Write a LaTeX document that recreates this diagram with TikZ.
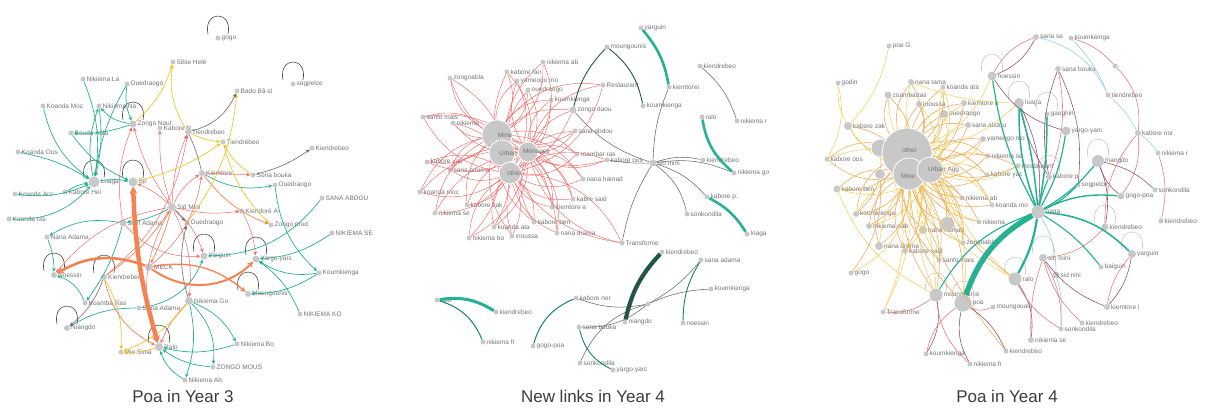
\documentclass[tikz,border=0pt]{standalone}
\usepackage{fontspec}
\setmainfont{Liberation Sans}
\usetikzlibrary{arrows.meta,calc}
\definecolor{dotc}{RGB}{200,200,200}
\definecolor{lblc}{RGB}{115,115,115}
\definecolor{titc}{RGB}{60,60,60}
\definecolor{tl}{RGB}{38,176,148}
\definecolor{tlD}{RGB}{22,130,110}
\definecolor{tlK}{RGB}{35,85,75}
\definecolor{orn}{RGB}{245,130,80}
\definecolor{rdc}{RGB}{240,105,105}
\definecolor{yel}{RGB}{238,200,40}
\definecolor{gry}{RGB}{105,105,105}
\definecolor{lpc}{RGB}{70,70,70}
\definecolor{pur}{RGB}{130,100,130}
\definecolor{orB}{RGB}{242,160,70}
\definecolor{ylB}{RGB}{240,205,80}
\definecolor{brn}{RGB}{140,75,95}
\definecolor{prd}{RGB}{228,115,115}
\definecolor{lbl2}{RGB}{150,210,225}
\definecolor{lpl}{RGB}{200,200,200}
\tikzset{
  dot/.style={circle,fill=dotc,inner sep=0pt},
  lbl/.style={font=\fontsize{6.5}{7}\selectfont,text=lblc,inner sep=0.8pt},
  ttl/.style={font=\fontsize{17}{20}\selectfont,text=titc},
  arr/.style={-{Stealth[length=4pt,width=3.6pt]}},
  eT/.style={arr,draw=tl,line width=0.7pt},
  eO/.style={arr,draw=orn,line width=0.7pt},
  eR/.style={arr,draw=rdc,line width=0.5pt},
  eY/.style={arr,draw=yel,line width=0.7pt},
  eG/.style={arr,draw=gry,line width=0.6pt},
  lp/.style={draw=lpc,line width=0.6pt},
  rr/.style={draw=rdc,line width=0.45pt},
  gg/.style={draw=gry,line width=0.55pt},
  oB/.style={draw=orB,line width=0.5pt},
  yB/.style={draw=ylB,line width=0.5pt},
  bB/.style={draw=brn,line width=0.55pt},
  pB/.style={draw=prd,line width=0.55pt},
  lB/.style={draw=lbl2,line width=0.6pt},
  lq/.style={draw=lpl,line width=0.6pt},
}
\begin{document}
\begin{tikzpicture}[x=1pt,y=-1pt]
\useasboundingbox (0,0) rectangle (1209,407);

%================ PANEL 1 nodes
\foreach \n/\x/\y/\s/\t in {
p1gogo/218/38/5/gogo, p1sibie/173/62/5/Sibie Helé, p1sogp/293/84/5/sogpelce,
p1nikla/83/79/5/Nikiema La, p1oued1/127/84/5/Ouedraogo, p1bado/237/91/5/Bado Bâ sl,
p1kmoc/43/106/5/Koanda Moc, p1nikna/99/106/5/Nikiema Na, p1zongo/133/124/7/Zongo Nout,
p1kabn/160/128/5/Kabore N, p1tien1/188/132/6/Tiendrebeo, p1tien2/223/142/5/Tiendrébeo,
p1bouda/71/133/5/Bouda Abla, p1kous/18/152/5/Koanda Ous, p1kiend1/312/148/5/Kiendrebeo,
p1kiem/202/173/6/Kiemtore, p1sona/253/175/5/Sona bouka, p1oued2/275/185/5/Ouedraogo,
p1loaga/94/182/11/Loaga, p1sp/133/182/9/Sp, p1karo/15/194/5/Koanda Aro,
p1kabh/65/192/5/Kabore Hei, p1sana/322/198/5/SANA ABDOU, p1sid/172/207/8/Sid Mini,
p1kras/9/219/5/Koanda ras, p1kienA/242/211/5/Kiendoré A, p1salif/123/223/7/Salif Adama,
p1oued3/187/223/5/Ouedraogo, p1zprod/271/225/5/Zongo prod, p1nikse/332/233/5/NIKIEMA SE,
p1nana/47/237/5/Nana Adama, p1yarg/204/256/7/Yarguin, p1yargo/256/259/7/Yargo-yarc,
p1meck/149/267/8/MECK, p1noes/54/275/6/Noessin, p1kiend2/104/277/6/Kiendrebeo,
p1koum/319/273/5/Koumkienga, p1moun/248/294/6/Moungounis, p1nikgo/189/301/8/Nikiema Go,
p1koamba/85/303/5/Koamba Ras, p1sanaA/139/308/5/Sana Adama, p1nikko/300/314/5/NIKIEMA KO,
p1niang/67/328/6/Niangdo, p1ralo/159/347/8/Ralo, p1nikbo/237/344/5/Nikiema Bo,
p1mie/121/352/5/Mie Sima, p1zmous/213/367/5/ZONGO MOUS, p1nikab/185/380/5/Nikiema Ab}
{\node[dot,minimum size=\s pt,label={[lbl]right:\t}] (\n) at (\x,\y) {};}

% panel 1 loops
\foreach \n in {p1gogo,p1sogp,p1zongo,p1loaga,p1sp,p1noes,p1kiend2,p1yarg,p1yargo,p1moun,p1niang,p1ralo}
{\draw[lp] ($(\n)+(-10,-4)$) .. controls ($(\n)+(-15,-28)$) and ($(\n)+(15,-28)$) .. ($(\n)+(10,-4)$);}

% panel 1 edges
\foreach \a/\b/\c in {p1sid/p1zongo/10, p1sid/p1sp/-10, p1sid/p1kabn/10, p1sid/p1tien1/10,
  p1sid/p1kiem/15, p1sid/p1kienA/-10, p1sid/p1yarg/15, p1sid/p1nikgo/15, p1sid/p1noes/-20,
  p1sid/p1ralo/-25, p1kiem/p1sona/0, p1kienA/p1yargo/10, p1salif/p1zongo/15, p1nikgo/p1ralo/-10,
  p1kiend2/p1tien1/-20, p1meck/p1kiem/-20, p1salif/p1yarg/-25}
{\draw[eR] (\a) to[bend left=\c] (\b);}
\foreach \a/\b/\c in {p1nikla/p1loaga/15, p1kmoc/p1loaga/-20, p1nikna/p1loaga/10, p1loaga/p1nikna/15,
  p1oued1/p1loaga/-10, p1zongo/p1bouda/10, p1bouda/p1sp/-15, p1kous/p1loaga/10, p1karo/p1loaga/-15,
  p1kras/p1loaga/-25, p1kabh/p1loaga/10, p1loaga/p1sp/10, p1zongo/p1nikna/20, p1salif/p1nana/-20,
  p1nana/p1noes/10, p1koamba/p1noes/-25, p1salif/p1koamba/10, p1sid/p1salif/10, p1sanaA/p1niang/-15,
  p1sanaA/p1yarg/-30, p1nikgo/p1nikbo/20, p1nikgo/p1zmous/25, p1nikgo/p1nikab/15, p1nikbo/p1ralo/15,
  p1zmous/p1ralo/15, p1nikab/p1ralo/20, p1koum/p1yargo/20, p1nikse/p1yargo/15, p1nikko/p1yargo/-15,
  p1koum/p1moun/15, p1oued2/p1koum/-20, p1kiem/p1oued2/-20, p1sana/p1yarg/25, p1oued1/p1zongo/-15}
{\draw[eT] (\a) to[bend left=\c] (\b);}
\foreach \a/\b/\c in {p1zongo/p1sibie/-15, p1tien1/p1sibie/20, p1tien1/p1tien2/-10, p1sp/p1tien2/-10,
  p1sona/p1tien2/15, p1oued3/p1bado/-15, p1tien2/p1zprod/-15, p1kiend2/p1mie/15, p1ralo/p1mie/10,
  p1nikgo/p1mie/15}
{\draw[eY] (\a) to[bend left=\c] (\b);}
\foreach \a/\b/\c in {p1tien1/p1bado/-25, p1sona/p1kiend1/-10, p1sid/p1oued3/0, p1nikgo/p1oued3/15}
{\draw[eG] (\a) to[bend left=\c] (\b);}
\draw[gg] (p1tien1) to[bend left=5] (p1kiem);
\draw[draw=pur,line width=0.6pt,arr] (p1kiend2) to[bend left=15] (p1niang);
\foreach \a/\b/\c in {p1kiem/p1zprod/-15, p1kiend2/p1sid/-10, p1sid/p1meck/5, p1kiend2/p1ralo/-25}
{\draw[eO] (\a) to[bend left=\c] (\b);}
\draw[draw=orn,line width=1.3pt,-{Stealth[length=5pt,width=5pt]}] (p1meck) to[bend left=25] (p1moun);
\draw[draw=orn,line width=2pt,-{Stealth[length=6pt,width=6pt]}] (p1meck) to[bend right=40] (p1yargo);
\draw[draw=orn,line width=2.6pt,-{Stealth[length=7pt,width=7pt]}] (p1meck) to[bend right=25] (p1noes);
\draw[draw=orn,line width=4.5pt,{Stealth[length=7pt,width=8pt]}-{Stealth[length=7pt,width=8pt]}] (p1sp) to[bend right=7] (p1ralo);

%================ PANEL 2 nodes
\foreach \n/\x/\y/\s/\t in {
p2yarg/641/28/5/yarguin, p2moun/607/47/5/moungounis, p2nikab/543/62/5/nikiema ab,
p2kiend1/700/66/5/kiendrebeo, p2zabla/450/78/5/zongoabla, p2kabher/507/72/5/kabore her,
p2yame/517/81/5/yameogo mo, p2oued/528/90/5/ouedraogo, p2rest/603/85/5/Restaurant,
p2kiem/669/87/5/kiemtorei, p2koum1/551/100/5/koumkienga, p2koum2/643/106/5/koumkienga,
p2zdaou/573/110/7/zongo daou, p2sanfo/423/117/5/sanfo mais, p2nikx/453/123/5/nikiema,
p2ralo/702/117/5/ralo, p2nikr/737/121/5/nikiema r, p2sanab/575/131/5/sana abdou,
p2roam/577/154/5/roambar ras, p2kabous/607/160/5/kabore ous, p2sib/653/163/7/sib mini,
p2kiend2/703/160/5/kiendrebeo, p2kabyac/427/162/5/kabore yac, p2sanad/450/170/5/sana adama,
p2nanah/583/179/5/nana hamad, p2nikgo/734/173/5/nikiema go, p2kmoc/420/192/5/koanda moc,
p2kabp/707/197/5/kabore p., p2kabsaid/573/199/5/kabre said, p2kabzak/467/205/5/kabore zak,
p2kiema/552/207/5/kiemtore a, p2nikse/435/213/5/nikiema se, p2sonk1/687/214/5/sonkondila,
p2kata/494/227/5/koanda ata, p2kabben/534/222/5/kabore ben, p2nanad/557/233/5/nana drama,
p2inou/512/236/5/inoussa, p2nikbo/469/238/5/nikiema bo, p2loaga/747/234/5/loaga,
p2trans/622/243/5/Transforme, p2kiend3/662/252/5/kiendrebeo, p2sanad2/701/260/5/sana adama,
p2koum3/711/289/5/koumkienga, p2kabnor/576/298/5/kabore nor, p2ctr/648/304/5/,
p2raso/437/300/5/ralo, p2kiend4/496/312/5/kiendrebeo, p2niang/625/322/5/niangdo,
p2noes/683/323/5/noessin, p2sanbk/579/327/5/sana bouka, p2nikfr/483/342/5/nikiema fr,
p2gogo/533/346/5/gogo-poa, p2sonk2/580/363/5/sonkondila, p2yargo/613/370/5/yargo-yarc}
{\node[dot,minimum size=\s pt,label={[lbl]right:\t}] (\n) at (\x,\y) {};}
\node[dot,minimum size=30pt] (p2mine) at (497,135) {};
\node[dot,minimum size=26pt] (p2urban) at (502,153) {};
\node[dot,minimum size=20pt] (p2menag) at (528,152) {};
\node[dot,minimum size=22pt] (p2other) at (510,173) {};

% red star of panel 2
\foreach \n/\c in {p2zabla/25, p2kabher/-25, p2yame/25, p2oued/-25, p2koum1/25, p2nikab/-30, p2rest/30,
  p2sanfo/-25, p2nikx/25, p2sanab/-25, p2roam/25, p2kabous/-25, p2kabyac/25, p2sanad/-25, p2nanah/25,
  p2kmoc/-25, p2kabsaid/25, p2kabzak/-25, p2kiema/25, p2nikse/-25, p2kata/25, p2kabben/-25,
  p2nanad/25, p2inou/-25, p2nikbo/25, p2trans/-30, p2zdaou/20}
{\draw[rr] (p2mine) to[bend left=\c] (\n);
 \draw[rr] (p2other) to[bend right=\c] (\n);
 \draw[rr] (p2menag) to[bend left=\c] (\n);}
\node[dot,draw=white,line width=0.8pt,minimum size=30pt] (p2mine) at (497,135) {};
\node[dot,draw=white,line width=0.8pt,minimum size=26pt] (p2urban) at (502,153) {};
\node[dot,draw=white,line width=0.8pt,minimum size=20pt] (p2menag) at (528,152) {};
\node[dot,draw=white,line width=0.8pt,minimum size=22pt] (p2other) at (510,173) {};
\node[lbl,right] (p2minel) at (p2mine.center) {Mine};
\node[lbl,right] (p2urbl) at ($(p2urban.center)+(-4,0)$) {Urban};
\node[lbl,right] (p2menl) at ($(p2menag.center)+(-6,0)$) {Ménages};
\node[lbl,right] (p2othl) at ($(p2other.center)+(-4,0)$) {other};

\draw[draw=tl,line width=2.6pt] (p2yarg) to[bend left=15] (p2kiem);
\draw[draw=tlK,line width=0.9pt] (p2moun) to[bend left=20] (p2koum2);
\draw[draw=tlK,line width=0.9pt] (p2moun) to[bend left=-15] (p2zdaou);
\foreach \a/\b/\c in {p2kiend1/p2nikr/15, p2kiem/p2sib/-10, p2zdaou/p2sib/-15, p2sib/p2kiend2/15,
  p2sib/p2nikgo/15, p2sib/p2kabp/15, p2sib/p2sonk1/20, p2sib/p2trans/-10, p2sib/p2kabous/5,
  p2kabnor/p2ctr/-15, p2ctr/p2koum3/10, p2ctr/p2sanad2/-10, p2sanbk/p2ctr/-20, p2sonk2/p2ctr/25}
{\draw[gg] (\a) to[bend left=\c] (\b);}
\draw[draw=tl,line width=2.6pt] (p2ralo) to[bend right=20] (p2nikgo);
\draw[draw=tl,line width=2.6pt] (p2kabp) to[bend left=15] (p2loaga);
\draw[draw=tlK,line width=4.2pt] (p2kiend3) to[bend right=15] (p2niang);
\draw[draw=tl,line width=3pt] (p2raso) to[bend left=20] (p2kiend4);
\draw[draw=tlD,line width=1pt] (p2raso) to[bend left=25] (p2nikfr);
\draw[draw=tlD,line width=1pt] (p2kabnor) to[bend right=25] (p2gogo);
\draw[draw=tlD,line width=0.9pt] (p2sanad2) to[bend right=15] (p2noes);
\draw[draw=tlD,line width=0.9pt] (p2sanbk) to[bend right=25] (p2yargo);

%================ PANEL 3 nodes
\foreach \n/\x/\y/\s/\t in {
p3poaG/889/46/5/poa G., p3godin/838/83/5/godin, p3sanase/1036/37/6/sana se,
p3koum1/1071/38/5/koumkienga, p3dot1/1115/66/5/, p3noes/992/76/9/noessin,
p3nana/911/82/6/nana tama, p3kata/943/87/5/koanda ata, p3sanab/1058/69/6/sana bouka,
p3zoam/888/95/7/zoambartas, p3tien/1108/95/5/tiendrebeo, p3loaga/1019/103/10/loaga,
p3inou/919/104/6/inoussa, p3kiema/964/103/6/kiemtore a, p3oued/944/114/8/ouedraogo,
p3gaog/1047/114/5/gaoghin, p3kabzak/848/126/8/kabore zak, p3sanabd/968/125/6/sana abdou,
p3yargo/1066/131/9/yargo-yarc, p3kabnor/1138/133/6/kabore nor, p3yame/983/139/6/yameogo mo,
p3niang/1098/161/12/niangdo, p3nikr/1158/153/5/nikiema r, p3kabous/827/159/5/kabore ous,
p3nikse/988/156/5/nikiema se, p3rest/1018/166/5/Restaurant, p3kabyac/987/175/5/kabore yac,
p3kabp/1049/177/6/kabore p, p3sogp/1078/185/5/sogpelce, p3kabben/837/189/7/kabore ben,
p3gogopoa/1121/196/7/gogo-poa, p3sonk1/1155/190/5/sonkondila, p3nikab/962/198/5/nikiema ab,
p3kmo/992/205/5/koanda mo, p3hub/1038/212/13/naga, p3kiend1/1161/221/5/kiendrebeo,
p3koum2/856/214/6/koumkienga, p3niknab/869/226/6/nikiema nab, p3nanah/923/230/8/nana hamad,
p3zongo/947/224/14/, p3nikx/979/222/5/nikiema, p3kiend2/1105/227/7/kiendrebeo,
p3zabla/963/243/5/zongoabla, p3nanad/879/246/8/nana drama, p3kabsaid/905/251/6/kabore said,
p3sanfo/939/260/5/sanfo mais, p3sib/1043/258/8/sib mini, p3yarg/1132/254/8/yarguin,
p3baig/1101/267/5/baiguin, p3gogo/851/273/5/gogo, p3ralo/1015/279/13/ralo,
p3sidn/1056/275/7/sid nini, p3moun/936/295/13/moungounis, p3poa/963/303/17/poa,
p3moun2/993/307/5/moungouais, p3trans/883/312/5/Transforme, p3kiemi/1107/307/6/kiemtore i,
p3kiend3/1082/323/5/kiendrebeo, p3nikse2/1031/340/6/nikiema se, p3sonk2/1061/329/5/sonkondila,
p3koum3/926/354/5/koumkienga, p3kiend4/1006/351/5/kiendrebeo, p3nikfr/970/364/5/nikiema fr}
{\node[dot,minimum size=\s pt,label={[lbl]right:\t}] (\n) at (\x,\y) {};}

% panel 3 hubs (first pass, so that edges can use them)
\node[dot,minimum size=50pt] (p3other) at (907,153) {};
\node[dot,minimum size=32pt] (p3mine) at (909,174) {};
\node[dot,minimum size=26pt] (p3urban) at (930,170) {};
\node[dot,minimum size=18pt] (p3big1) at (880,148) {};
\node[dot,minimum size=11pt] (p3big2) at (880,174) {};

% panel 3 loops
\foreach \n in {p3noes,p3loaga,p3gaog,p3niang,p3moun,p3poa,p3ralo,p3yarg,p3sib,p3kiend2,p3kabp}
{\draw[lq] ($(\n)+(-10,-4)$) .. controls ($(\n)+(-15,-28)$) and ($(\n)+(15,-28)$) .. ($(\n)+(10,-4)$);}

% orange / yellow star of panel 3
\foreach \n/\c in {p3nana/25, p3kata/-25, p3zoam/25, p3inou/-25, p3kiema/25, p3oued/-25, p3sanabd/25,
  p3yame/-25, p3nikse/25, p3rest/-25, p3kabyac/25, p3nikab/-25, p3kmo/25, p3koum2/-25, p3niknab/25,
  p3nanah/-25, p3zongo/25, p3nikx/-25, p3zabla/25, p3nanad/-25, p3kabsaid/25, p3sanfo/-25,
  p3kabben/25, p3kabous/-25, p3kabzak/25, p3moun/-20, p3poa/20}
{\draw[oB] (p3other) to[bend left=\c] (\n);
 \draw[oB] (p3mine) to[bend right=\c] (\n);
 \draw[yB] (p3urban) to[bend left=\c] (\n);}
\foreach \a/\b/\c in {p3kabzak/p3poaG/-15, p3godin/p3kabous/20, p3godin/p3kabzak/-15, p3mine/p3gogo/30,
  p3mine/p3trans/15, p3other/p3ralo/-20, p3other/p3loaga/-15, p3other/p3noes/-20, p3nana/p3loaga/-10,
  p3kata/p3ralo/-30, p3mine/p3moun/10, p3kabben/p3moun/-20, p3big1/p3trans/25}
{\draw[yB] (\a) to[bend left=\c] (\b);}
\foreach \a/\b/\c in {p3big1/p3koum2/25, p3big2/p3gogo/20, p3mine/p3kiend4/-10, p3urban/p3ralo/-15}
{\draw[oB] (\a) to[bend left=\c] (\b);}
% hubs drawn again on top
\node[dot,draw=white,line width=0.8pt,minimum size=18pt] (p3big1) at (880,148) {};
\node[dot,draw=white,line width=0.8pt,minimum size=11pt] (p3big2) at (880,174) {};
\node[dot,draw=white,line width=0.8pt,minimum size=50pt] (p3other) at (907,153) {};
\node[dot,draw=white,line width=0.8pt,minimum size=32pt] (p3mine) at (909,174) {};
\node[dot,draw=white,line width=0.8pt,minimum size=26pt] (p3urban) at (930,170) {};
\node[lbl,right] (p3othl) at ($(p3other.center)+(-6,-3)$) {other};
\node[lbl,right] (p3minl) at ($(p3mine.center)+(-9,2)$) {Mine};
\node[lbl,right] (p3urbl) at ($(p3urban.center)+(-3,0)$) {Urban Agg};

% brown / red / light blue
\foreach \a/\b/\c in {p3sanase/p3noes/20, p3sanab/p3sogp/15, p3loaga/p3hub/15, p3niang/p3sonk1/15,
  p3niang/p3gogopoa/-15, p3sib/p3kiemi/-15, p3yarg/p3kiemi/15, p3poa/p3nikfr/-20, p3poa/p3kiend4/15,
  p3moun/p3koum3/20, p3ralo/p3nikse2/20, p3noes/p3yargo/-20, p3niang/p3kiend2/15, p3loaga/p3kabp/-10,
  p3sanab/p3kabp/-15}
{\draw[bB] (\a) to[bend left=\c] (\b);}
\foreach \a/\b/\c in {p3sanase/p3noes/-20, p3koum1/p3dot1/15, p3dot1/p3kabnor/25, p3kabnor/p3gogopoa/20,
  p3sanab/p3kabp/15, p3kabnor/p3kiend2/-20, p3sib/p3nikse2/-10, p3sib/p3kiend3/-15, p3sib/p3sonk2/15,
  p3yarg/p3kiemi/-15, p3poa/p3koum3/-20, p3moun/p3nikfr/-20, p3ralo/p3sonk2/-15, p3nikr/p3kiend1/15,
  p3poa/p3moun2/-25, p3moun/p3trans/20, p3sib/p3kiend2/-20}
{\draw[pB] (\a) to[bend left=\c] (\b);}
\foreach \a/\b/\c in {p3sanase/p3tien/25, p3koum1/p3tien/10, p3tien/p3kabnor/10, p3kabnor/p3nikr/10,
  p3sidn/p3sonk2/10, p3hub/p3sidn/15}
{\draw[lB] (\a) to[bend left=\c] (\b);}

% teal of panel 3
\foreach \a/\b/\c/\w in {p3hub/p3loaga/10/1.5, p3hub/p3loaga/-5/1.5, p3hub/p3noes/10/1.2, p3hub/p3ralo/10/2.2,
  p3hub/p3moun/-20/1.1, p3hub/p3yarg/20/1.6, p3hub/p3baig/10/1.1, p3hub/p3kabp/5/1.1, p3hub/p3sogp/-10/1.2,
  p3hub/p3niang/-10/1.2, p3hub/p3gaog/-5/1.5, p3hub/p3gogopoa/15/1.4, p3hub/p3yargo/-10/1.2}
{\draw[draw=tl,line width=\w pt] (\a) to[bend left=\c] (\b);}
\draw[draw=tl,line width=5.5pt] (p3hub) to[bend right=20] (p3poa);

%================ titles
\node[ttl] (t1) at (183,396) {Poa in Year 3};
\node[ttl] (t2) at (593,396) {New links in Year 4};
\node[ttl] (t3) at (1007,396) {Poa in Year 4};
\end{tikzpicture}
\end{document}
